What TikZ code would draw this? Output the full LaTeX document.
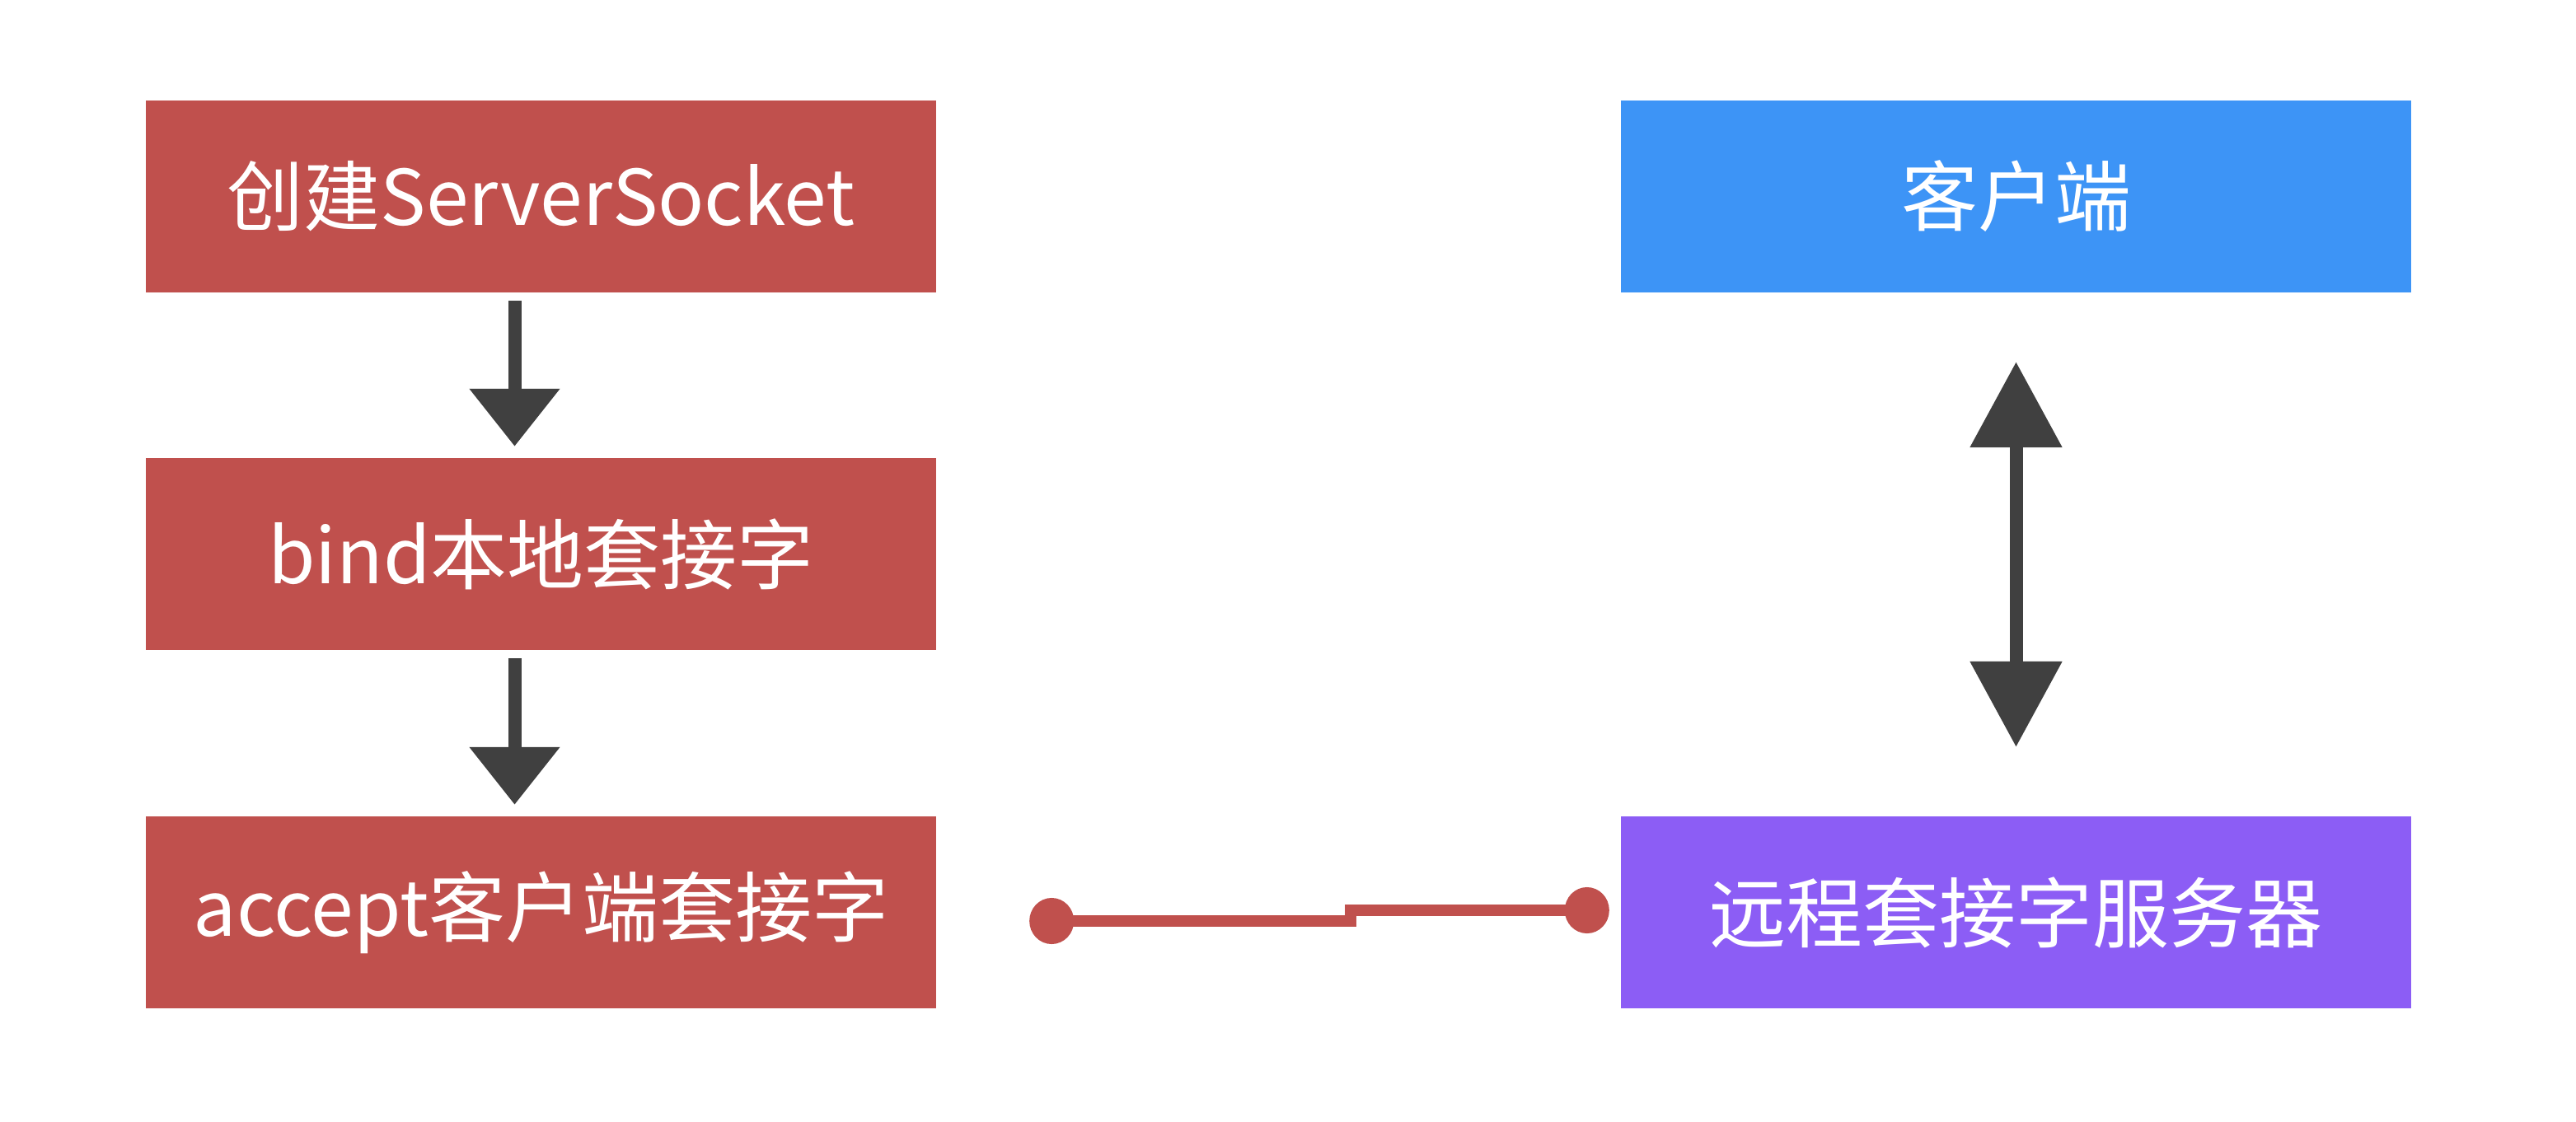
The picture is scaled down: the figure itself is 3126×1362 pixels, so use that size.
\documentclass[tikz,border=0pt]{standalone}
\usepackage{fontspec}
\setmainfont{Noto Sans CJK SC}
\usetikzlibrary{arrows.meta}
\definecolor{boxred}{HTML}{C0504D}
\definecolor{boxblue}{HTML}{3D94F6}
\definecolor{boxpurple}{HTML}{8C5DF5}
\definecolor{arrgray}{HTML}{404040}
\tikzset{
  box/.style={rectangle, minimum width=959pt, minimum height=233pt, inner sep=0pt,
    text=white, font=\fontsize{93}{110}\selectfont},
  downarr/.style={draw=arrgray, line width=16pt, -{Triangle[length=70pt, width=106pt]}},
  bothway/.style={draw=arrgray, line width=16pt, {Triangle[length=104pt, width=108pt]}-{Triangle[length=104pt, width=108pt]}},
  link/.style={draw=boxred, line width=14pt, {Circle[length=54pt, width=56pt]}-{Circle[length=54pt, width=56pt]}},
}
\begin{document}
\begin{tikzpicture}[x=1pt, y=-1pt]
\useasboundingbox[fill=white] (0,0) rectangle (3126,1362);
\node[box, fill=boxred] (b1) at (656.5,238.5) {创建ServerSocket};
\node[box, fill=boxred] (b2) at (656.5,672.5) {bind本地套接字};
\node[box, fill=boxred] (b3) at (656.5,1107.5) {accept客户端套接字};
\node[box, fill=boxblue] (c1) at (2446.5,238.5) {客户端};
\node[box, fill=boxpurple] (r1) at (2446.5,1107.5) {远程套接字服务器};
\draw[downarr] ([xshift=-32pt,yshift=-10pt]b1.south) -- ([xshift=-32pt,yshift=14pt]b2.north);
\draw[downarr] ([xshift=-32pt,yshift=-10pt]b2.south) -- ([xshift=-32pt,yshift=14pt]b3.north);
\draw[bothway] ([yshift=-84pt]c1.south) -- ([yshift=84pt]r1.north);
\coordinate (m1) at (1639,1118);
\coordinate (m2) at (1639,1105);
\draw[link] ([xshift=113pt,yshift=-10.5pt]b3.east) -- (m1) -- (m2) -- ([xshift=-14pt,yshift=2.5pt]r1.west);
\end{tikzpicture}
\end{document}
